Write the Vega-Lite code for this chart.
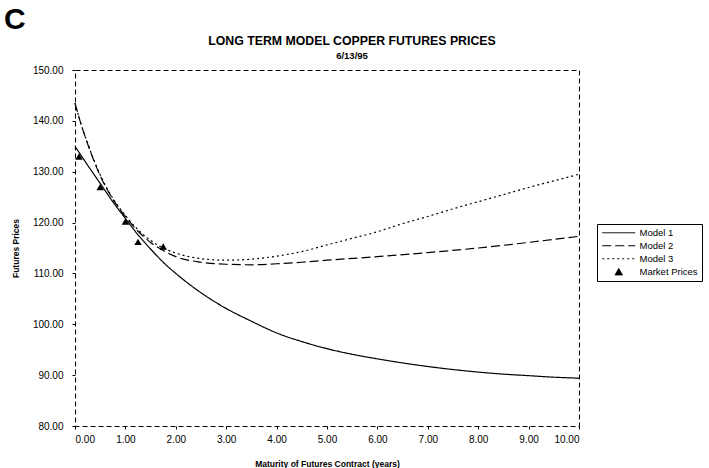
{
  "$schema": "https://vega.github.io/schema/vega-lite/v6.json",
  "padding": {"left": 3, "top": 4, "right": 0, "bottom": 0},
  "background": "white",
  "title": {"text": "C", "anchor": "start", "frame": "bounds", "font": "Liberation Sans", "fontSize": 30, "fontWeight": "bold", "color": "black", "offset": 0, "dx": -7},
  "config": {
    "font": "Liberation Sans",
    "view": {"stroke": "black", "strokeDash": [5, 3], "strokeWidth": 1},
    "legend": {"symbolFillColor": "black", "symbolStrokeColor": "black"},
    "axis": {"domain": false, "grid": false, "ticks": true, "tickSize": 3, "tickColor": "black", "labelFont": "Liberation Sans", "labelFontSize": 10, "labelColor": "black", "titleFont": "Liberation Sans", "titleFontSize": 8.5, "titleFontWeight": "bold", "titleColor": "black"}
  },
  "datasets": {
    "curves": [
      {"series": "Model 1", "x": 0, "y": 135.0},
      {"series": "Model 1", "x": 0.25, "y": 131.3},
      {"series": "Model 1", "x": 0.5, "y": 127.7},
      {"series": "Model 1", "x": 0.75, "y": 124.1},
      {"series": "Model 1", "x": 1, "y": 120.8},
      {"series": "Model 1", "x": 1.25, "y": 117.6},
      {"series": "Model 1", "x": 1.5, "y": 114.8},
      {"series": "Model 1", "x": 1.75, "y": 112.2},
      {"series": "Model 1", "x": 2, "y": 110.0},
      {"series": "Model 1", "x": 2.5, "y": 106.2},
      {"series": "Model 1", "x": 3, "y": 103.1},
      {"series": "Model 1", "x": 3.5, "y": 100.6},
      {"series": "Model 1", "x": 4, "y": 98.3},
      {"series": "Model 1", "x": 4.5, "y": 96.6},
      {"series": "Model 1", "x": 5, "y": 95.2},
      {"series": "Model 1", "x": 5.5, "y": 94.1},
      {"series": "Model 1", "x": 6, "y": 93.2},
      {"series": "Model 1", "x": 6.5, "y": 92.4},
      {"series": "Model 1", "x": 7, "y": 91.7},
      {"series": "Model 1", "x": 7.5, "y": 91.1},
      {"series": "Model 1", "x": 8, "y": 90.6},
      {"series": "Model 1", "x": 8.5, "y": 90.2},
      {"series": "Model 1", "x": 9, "y": 89.9},
      {"series": "Model 1", "x": 9.5, "y": 89.6},
      {"series": "Model 1", "x": 10, "y": 89.4},
      {"series": "Model 2", "x": 0, "y": 143.5},
      {"series": "Model 2", "x": 0.1, "y": 140.0},
      {"series": "Model 2", "x": 0.25, "y": 135.5},
      {"series": "Model 2", "x": 0.5, "y": 129.2},
      {"series": "Model 2", "x": 0.75, "y": 124.6},
      {"series": "Model 2", "x": 1, "y": 121.2},
      {"series": "Model 2", "x": 1.25, "y": 118.3},
      {"series": "Model 2", "x": 1.5, "y": 116.1},
      {"series": "Model 2", "x": 1.75, "y": 114.5},
      {"series": "Model 2", "x": 2, "y": 113.3},
      {"series": "Model 2", "x": 2.5, "y": 112.2},
      {"series": "Model 2", "x": 3, "y": 111.8},
      {"series": "Model 2", "x": 3.5, "y": 111.7},
      {"series": "Model 2", "x": 4, "y": 111.9},
      {"series": "Model 2", "x": 4.5, "y": 112.2},
      {"series": "Model 2", "x": 5, "y": 112.6},
      {"series": "Model 2", "x": 6, "y": 113.3},
      {"series": "Model 2", "x": 7, "y": 114.1},
      {"series": "Model 2", "x": 8, "y": 115.0},
      {"series": "Model 2", "x": 9, "y": 116.1},
      {"series": "Model 2", "x": 10, "y": 117.3},
      {"series": "Model 3", "x": 0, "y": 143.5},
      {"series": "Model 3", "x": 0.1, "y": 140.0},
      {"series": "Model 3", "x": 0.25, "y": 135.6},
      {"series": "Model 3", "x": 0.5, "y": 129.4},
      {"series": "Model 3", "x": 0.75, "y": 124.8},
      {"series": "Model 3", "x": 1, "y": 121.4},
      {"series": "Model 3", "x": 1.25, "y": 118.6},
      {"series": "Model 3", "x": 1.5, "y": 116.5},
      {"series": "Model 3", "x": 1.75, "y": 115.0},
      {"series": "Model 3", "x": 2, "y": 114.0},
      {"series": "Model 3", "x": 2.5, "y": 112.9},
      {"series": "Model 3", "x": 3, "y": 112.6},
      {"series": "Model 3", "x": 3.5, "y": 112.8},
      {"series": "Model 3", "x": 4, "y": 113.4},
      {"series": "Model 3", "x": 4.5, "y": 114.3},
      {"series": "Model 3", "x": 5, "y": 115.6},
      {"series": "Model 3", "x": 5.5, "y": 116.9},
      {"series": "Model 3", "x": 6, "y": 118.2},
      {"series": "Model 3", "x": 6.5, "y": 119.8},
      {"series": "Model 3", "x": 7, "y": 121.2},
      {"series": "Model 3", "x": 7.5, "y": 122.7},
      {"series": "Model 3", "x": 8, "y": 124.1},
      {"series": "Model 3", "x": 8.5, "y": 125.5},
      {"series": "Model 3", "x": 9, "y": 126.9},
      {"series": "Model 3", "x": 9.5, "y": 128.2},
      {"series": "Model 3", "x": 10, "y": 129.5},
      {"series": "Market Prices", "x": 0.08, "y": 133.0},
      {"series": "Market Prices", "x": 0.5, "y": 127.0},
      {"series": "Market Prices", "x": 1.0, "y": 120.2},
      {"series": "Market Prices", "x": 1.25, "y": 116.2},
      {"series": "Market Prices", "x": 1.75, "y": 115.3}
    ]
  },
  "vconcat": [
    {
      "width": 504,
      "height": 356,
      "title": {"text": "LONG TERM MODEL COPPER FUTURES PRICES", "subtitle": "6/13/95", "anchor": "middle", "dx": 25, "font": "Liberation Sans", "fontSize": 12.3, "fontWeight": "bold", "color": "black", "subtitleFont": "Liberation Sans", "subtitleFontSize": 9.5, "subtitleFontWeight": "bold", "subtitleColor": "black", "subtitlePadding": 3, "offset": 5},
      "data": {"name": "curves"},
      "encoding": {
        "x": {"field": "x", "type": "quantitative", "scale": {"domain": [0, 10], "nice": false}, "axis": {"values": [0, 1, 2, 3, 4, 5, 6, 7, 8, 9, 10], "format": ".2f", "title": "Maturity of Futures Contract (years)", "labelPadding": 5, "titlePadding": 15}},
        "y": {"field": "y", "type": "quantitative", "scale": {"domain": [80, 150], "nice": false, "zero": false}, "axis": {"values": [80, 90, 100, 110, 120, 130, 140, 150], "format": ".2f", "title": "Futures Prices", "labelPadding": 9, "titlePadding": 12}}
      },
      "layer": [
        {
          "transform": [{"filter": "datum.series !== 'Market Prices'"}],
          "mark": {"type": "line", "color": "black", "strokeWidth": 1.2, "interpolate": "monotone"},
          "encoding": {
            "strokeDash": {"field": "series", "type": "nominal", "scale": {"domain": ["Model 1", "Model 2", "Model 3", "Market Prices"], "range": [[1, 0], [9, 4], [2, 3], [1, 0]]}, "legend": {"title": null, "orient": "none", "legendX": 522, "legendY": 154, "strokeColor": "black", "padding": 4, "labelFontSize": 9.5, "labelFont": "Liberation Sans", "labelColor": "black", "symbolSize": 55, "symbolOffset": 13, "labelOffset": 16, "rowPadding": 2, "symbolFillColor": "black", "encode": {"symbols": {"update": {"stroke": {"value": "black"}, "fill": {"value": "black"}, "strokeWidth": {"value": 1}}}}}}
          }
        },
        {
          "transform": [{"filter": "datum.series === 'Market Prices'"}],
          "mark": {"type": "point", "filled": true, "color": "black", "opacity": 1, "size": 55},
          "encoding": {
            "shape": {"field": "series", "type": "nominal", "scale": {"domain": ["Model 1", "Model 2", "Model 3", "Market Prices"], "range": ["M-4.45,0H4.45", "M-4.45,0H4.45", "M-4.45,0H4.45", "triangle-up"]}, "legend": {"symbolFillColor": "black", "encode": {"symbols": {"update": {"stroke": {"value": "black"}, "fill": {"value": "black"}, "strokeWidth": {"value": 1}}}}}}
          }
        }
      ]
    }
  ]
}
